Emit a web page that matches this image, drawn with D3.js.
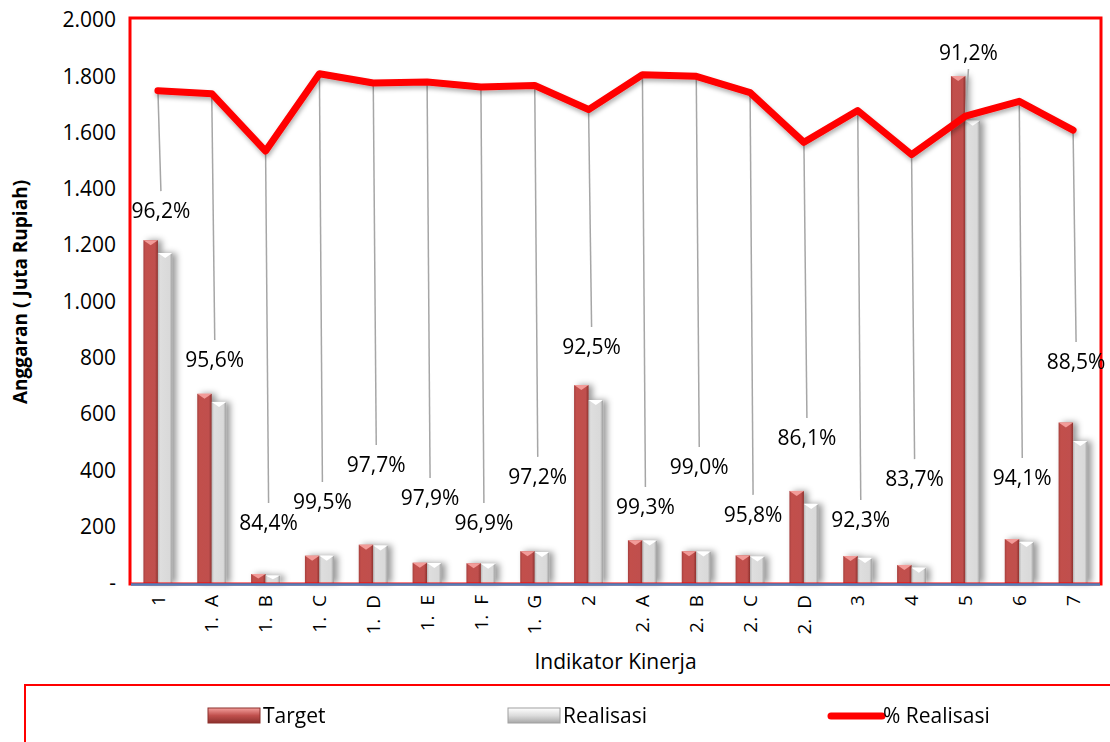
<!DOCTYPE html>
<html>
<head>
<meta charset="utf-8">
<script src="https://cdn.jsdelivr.net/npm/d3@7"></script>
<style>
  body { margin: 0; background: #fff; }
  svg { display: block; }
</style>
</head>
<body>
<svg id="chart"></svg>
<script>
// data
const categories = ['1', '1. A', '1. B', '1. C', '1. D', '1. E', '1. F', '1. G', '2', '2. A', '2. B', '2. C', '2. D', '3', '4', '5', '6', '7'];
const target =    [1218, 672, 32, 97, 136, 72, 70, 113, 703, 152, 113, 98, 327, 96, 64, 1801, 156, 570];
const realisasi = [1172, 643, 27, 97, 133, 71, 68, 110, 650, 151, 112, 94, 281, 89, 54, 1642, 146, 504];
const persen =    [96.2, 95.6, 84.4, 99.5, 97.7, 97.9, 96.9, 97.2, 92.5, 99.3, 99.0, 95.8, 86.1, 92.3, 83.7, 91.2, 94.1, 88.5];
const yTicks = [0, 200, 400, 600, 800, 1000, 1200, 1400, 1600, 1800, 2000];
const seriesNames = ['Target', 'Realisasi', '% Realisasi'];

// where each % label sits, in axis units (label layout only)
const labelAt = [1321, 792, 213, 288, 419, 302, 213, 377, 838, 270, 412, 242, 515, 224, 369, 1883, 373, 785];

const width = 1110, height = 742;
const svg = d3.select('#chart').attr('width', width).attr('height', height);

const locale = d3.formatLocale({ decimal: ',', thousands: '.', grouping: [3], currency: ['', ''] });
const fmtNum = locale.format(',.0f');
const fmtPct = locale.format('.1f');

const plot = { left: 131, right: 1100, top: 18, bottom: 583 };

const x = d3.scaleBand().domain(categories).range([plot.left, plot.right]).padding(0);
const xSub = d3.scaleBand().domain(['Target', 'Realisasi']).range([-14.5, 14.5]);
const y = d3.scaleLinear().domain([0, 2000]).range([plot.bottom, plot.top + 2]);
const y2 = d3.scaleLinear().domain([0, 110]).range([plot.bottom, plot.top + 2]);

// gradients + shadows
const defs = svg.append('defs');
function hGrad(id, stops) {
  const g = defs.append('linearGradient').attr('id', id).attr('x1', 0).attr('x2', 1).attr('y1', 0).attr('y2', 0);
  stops.forEach(s => g.append('stop').attr('offset', s[0]).attr('stop-color', s[1]));
}
hGrad('redGrad', [[0, '#a53f3c'], [0.15, '#c24f4c'], [0.8, '#c0504d'], [1, '#8c302d']]);
hGrad('grayGrad', [[0, '#b8b8b8'], [0.15, '#dedede'], [0.8, '#d9d9d9'], [1, '#9c9c9c']]);
const vg = defs.append('linearGradient').attr('id', 'redLeg').attr('x1', 0).attr('x2', 0).attr('y1', 0).attr('y2', 1);
vg.append('stop').attr('offset', 0).attr('stop-color', '#f4a09d');
vg.append('stop').attr('offset', 0.5).attr('stop-color', '#c0504d');
vg.append('stop').attr('offset', 1).attr('stop-color', '#8c302d');
const vg2 = defs.append('linearGradient').attr('id', 'grayLeg').attr('x1', 0).attr('x2', 0).attr('y1', 0).attr('y2', 1);
vg2.append('stop').attr('offset', 0).attr('stop-color', '#ffffff');
vg2.append('stop').attr('offset', 0.5).attr('stop-color', '#dcdcdc');
vg2.append('stop').attr('offset', 1).attr('stop-color', '#a8a8a8');

const barShadow = defs.append('filter').attr('id', 'barShadow').attr('x', '-50%').attr('width', '250%').attr('y', '-10%').attr('height', '120%');
barShadow.append('feDropShadow').attr('dx', 4).attr('dy', 0).attr('stdDeviation', 3)
  .attr('flood-color', '#000').attr('flood-opacity', 0.4);
const lineShadow = defs.append('filter').attr('id', 'lineShadow').attr('x', '-5%').attr('width', '110%').attr('y', '-20%').attr('height', '140%');
lineShadow.append('feDropShadow').attr('dx', 1).attr('dy', 3).attr('stdDeviation', 2)
  .attr('flood-color', '#000').attr('flood-opacity', 0.3);

// y axis
const yAxis = svg.append('g')
  .attr('transform', `translate(${plot.left - 12},0)`)
  .call(d3.axisLeft(y).tickValues(yTicks).tickSize(0).tickFormat(d => d === 0 ? '-' : fmtNum(d)));
yAxis.select('.domain').remove();
yAxis.selectAll('text')
  .attr('font-family', 'Open Sans, sans-serif')
  .attr('font-size', 21)
  .attr('fill', '#000');

svg.append('text')
  .attr('transform', `translate(27,${292}) rotate(-90)`)
  .attr('text-anchor', 'middle')
  .attr('font-family', 'Open Sans, sans-serif')
  .attr('font-weight', 'bold')
  .attr('font-size', 19)
  .text('Anggaran ( Juta Rupiah)');

// x axis
const xAxis = svg.append('g')
  .attr('transform', `translate(0,${plot.bottom + 12})`)
  .call(d3.axisBottom(x).tickSize(0).tickPadding(0));
xAxis.select('.domain').remove();
xAxis.selectAll('text')
  .attr('font-family', 'Open Sans, sans-serif')
  .attr('font-size', 19)
  .attr('fill', '#000')
  .attr('text-anchor', 'end')
  .attr('y', 0)
  .attr('dy', '0.35em')
  .attr('transform', 'rotate(-90)')
  .style('white-space', 'pre')
  .text(d => d.replace('. ', '.  '));

svg.append('text')
  .attr('x', (plot.left + plot.right) / 2)
  .attr('y', 669)
  .attr('text-anchor', 'middle')
  .attr('font-family', 'Liberation Sans Narrow, Open Sans, sans-serif')
  .attr('font-size', 21)
  .text('Indikator Kinerja');

// bars
const rows = categories.map((c, i) => ({ cat: c, Target: target[i], Realisasi: realisasi[i] }));
const barG = svg.append('g').attr('filter', 'url(#barShadow)');
const groups = barG.selectAll('g.cat').data(rows).enter().append('g')
  .attr('class', 'cat')
  .attr('transform', d => `translate(${x(d.cat) + x.bandwidth() / 2},0)`);

['Target', 'Realisasi'].forEach(key => {
  const bw = xSub.bandwidth();
  groups.append('rect')
    .attr('x', xSub(key))
    .attr('y', d => y(d[key]))
    .attr('width', bw)
    .attr('height', d => y(0) - y(d[key]))
    .attr('fill', key === 'Target' ? 'url(#redGrad)' : 'url(#grayGrad)');
  groups.append('path')
    .attr('d', d => {
      const x0 = xSub(key), yt = y(d[key]);
      const dep = Math.min(5, (y(0) - yt) / 2);
      return `M${x0},${yt}L${x0 + bw},${yt}L${x0 + bw / 2},${yt + dep}Z`;
    })
    .attr('fill', key === 'Target' ? '#f29b98' : '#ffffff');
});

// plot border + baseline
svg.append('rect')
  .attr('x', plot.left - 1).attr('y', plot.top)
  .attr('width', plot.right - plot.left + 2).attr('height', plot.bottom - plot.top + 1)
  .attr('fill', 'none').attr('stroke', '#ff0000').attr('stroke-width', 3);
svg.append('line')
  .attr('x1', plot.left).attr('x2', plot.right)
  .attr('y1', y(0) + 1.5).attr('y2', y(0) + 1.5)
  .attr('stroke', '#4f81bd').attr('stroke-width', 2.5);

// leader lines
const labelDx = 3;
svg.append('g').selectAll('line').data(persen).enter().append('line')
  .attr('x1', (d, i) => x(categories[i]) + x.bandwidth() / 2)
  .attr('y1', d => y2(d))
  .attr('x2', (d, i) => x(categories[i]) + x.bandwidth() / 2 + labelDx)
  .attr('y2', (d, i) => y(labelAt[i]) < y2(d) ? y(labelAt[i]) + 16 : y(labelAt[i]) - 20)
  .attr('stroke', '#a6a6a6').attr('stroke-width', 1.5);

// % line
const line = d3.line()
  .x((d, i) => x(categories[i]) + x.bandwidth() / 2)
  .y(d => y2(d));
svg.append('path')
  .datum(persen)
  .attr('d', line)
  .attr('fill', 'none')
  .attr('stroke', '#ff0000')
  .attr('stroke-width', 7)
  .attr('stroke-linejoin', 'round')
  .attr('stroke-linecap', 'round')
  .attr('filter', 'url(#lineShadow)');

// % labels
svg.append('g').selectAll('text').data(persen).enter().append('text')
  .attr('x', (d, i) => x(categories[i]) + x.bandwidth() / 2 + labelDx)
  .attr('y', (d, i) => y(labelAt[i]))
  .attr('dy', '0.35em')
  .attr('text-anchor', 'middle')
  .attr('font-family', 'Open Sans, sans-serif')
  .attr('font-size', 21)
  .text(d => fmtPct(d) + '%');

// legend
const leg = svg.append('g');
leg.append('rect')
  .attr('x', 25).attr('y', 685).attr('width', 1110).attr('height', 80)
  .attr('fill', '#fff').attr('stroke', '#ff0000').attr('stroke-width', 2);
const legItems = [
  { name: seriesNames[0], x: 208 },
  { name: seriesNames[1], x: 508 },
  { name: seriesNames[2], x: 828 }
];
legItems.forEach((it, i) => {
  if (i < 2) {
    leg.append('rect').attr('x', it.x).attr('y', 708).attr('width', 52).attr('height', 15)
      .attr('fill', i === 0 ? 'url(#redLeg)' : 'url(#grayLeg)')
      .attr('stroke', i === 0 ? '#8c302d' : '#a0a0a0').attr('stroke-width', 1);
  } else {
    leg.append('line').attr('x1', it.x + 3).attr('x2', it.x + 54).attr('y1', 716).attr('y2', 716)
      .attr('stroke', '#ff0000').attr('stroke-width', 7).attr('stroke-linecap', 'round');
  }
  leg.append('text')
    .attr('x', it.x + 55).attr('y', 716).attr('dy', '0.35em')
    .attr('font-family', 'Liberation Sans Narrow, Open Sans, sans-serif')
    .attr('font-size', 21)
    .text(it.name);
});
</script>
</body>
</html>
